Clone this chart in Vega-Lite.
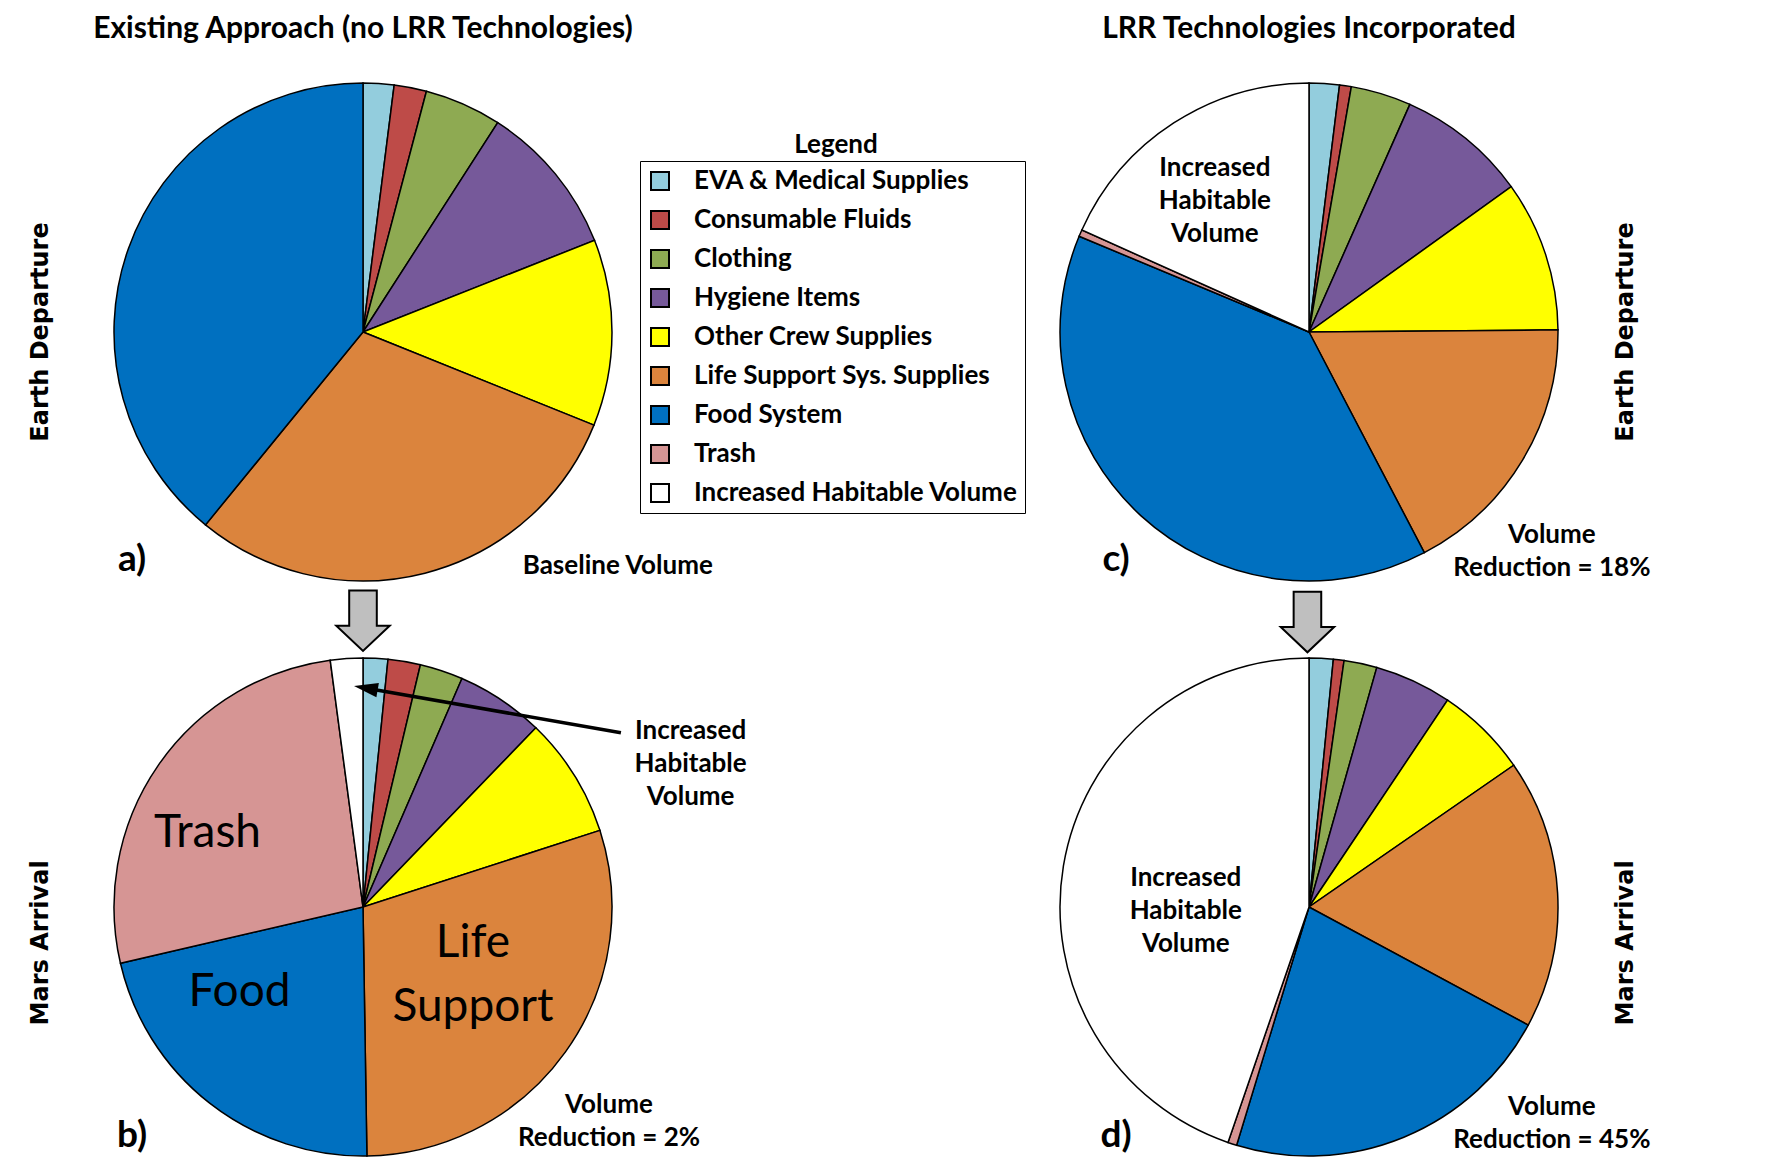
{
  "$schema": "https://vega.github.io/schema/vega-lite/v6.json",
  "background": "white",
  "padding": {"left": 29, "top": 14, "right": 5, "bottom": 0},
  "bounds": "flush",
  "columns": 3,
  "spacing": {"row": 55, "column": 0},
  "resolve": {"legend": {"color": "independent"}},
  "config": {"view": {"stroke": null}},
  "datasets": {
    "slices": [
      {"panel": "a", "n": 1, "category": "EVA & Medical Supplies", "share": 2.0},
      {"panel": "a", "n": 2, "category": "Consumable Fluids", "share": 2.1},
      {"panel": "a", "n": 3, "category": "Clothing", "share": 5.0},
      {"panel": "a", "n": 4, "category": "Hygiene Items", "share": 9.9},
      {"panel": "a", "n": 5, "category": "Other Crew Supplies", "share": 12.1},
      {"panel": "a", "n": 6, "category": "Life Support Sys. Supplies", "share": 29.8},
      {"panel": "a", "n": 7, "category": "Food System", "share": 39.1},
      {"panel": "b", "n": 1, "category": "EVA & Medical Supplies", "share": 1.6},
      {"panel": "b", "n": 2, "category": "Consumable Fluids", "share": 2.1},
      {"panel": "b", "n": 3, "category": "Clothing", "share": 2.8},
      {"panel": "b", "n": 4, "category": "Hygiene Items", "share": 5.7},
      {"panel": "b", "n": 5, "category": "Other Crew Supplies", "share": 7.8},
      {"panel": "b", "n": 6, "category": "Life Support Sys. Supplies", "share": 29.7},
      {"panel": "b", "n": 7, "category": "Food System", "share": 21.6},
      {"panel": "b", "n": 8, "category": "Trash", "share": 26.5},
      {"panel": "b", "n": 9, "category": "Increased Habitable Volume", "share": 2.1},
      {"panel": "c", "n": 1, "category": "EVA & Medical Supplies", "share": 1.96},
      {"panel": "c", "n": 2, "category": "Consumable Fluids", "share": 0.76},
      {"panel": "c", "n": 3, "category": "Clothing", "share": 3.92},
      {"panel": "c", "n": 4, "category": "Hygiene Items", "share": 8.44},
      {"panel": "c", "n": 5, "category": "Other Crew Supplies", "share": 9.78},
      {"panel": "c", "n": 6, "category": "Life Support Sys. Supplies", "share": 17.47},
      {"panel": "c", "n": 7, "category": "Food System", "share": 38.94},
      {"panel": "c", "n": 8, "category": "Trash", "share": 0.44},
      {"panel": "c", "n": 9, "category": "Increased Habitable Volume", "share": 18.28},
      {"panel": "d", "n": 1, "category": "EVA & Medical Supplies", "share": 1.56},
      {"panel": "d", "n": 2, "category": "Consumable Fluids", "share": 0.69},
      {"panel": "d", "n": 3, "category": "Clothing", "share": 2.14},
      {"panel": "d", "n": 4, "category": "Hygiene Items", "share": 5.0},
      {"panel": "d", "n": 5, "category": "Other Crew Supplies", "share": 5.97},
      {"panel": "d", "n": 6, "category": "Life Support Sys. Supplies", "share": 17.5},
      {"panel": "d", "n": 7, "category": "Food System", "share": 21.83},
      {"panel": "d", "n": 8, "category": "Trash", "share": 0.58},
      {"panel": "d", "n": 9, "category": "Increased Habitable Volume", "share": 44.72}
    ]
  },
  "concat": [
    {
      "width": 520, "height": 520,
      "title": {"text": "Existing Approach (no LRR Technologies)", "font": "Lato", "fontSize": 30, "fontWeight": "bold", "color": "black", "anchor": "middle", "frame": "group", "offset": 28},
      "layer": [
        {"data": {"name": "slices"}, "transform": [{"filter": "datum.panel === 'a'"}],
         "mark": {"type": "arc", "outerRadius": 249, "stroke": "black", "strokeWidth": 1.5},
         "encoding": {"theta": {"field": "share", "type": "quantitative", "stack": true}, "order": {"field": "n", "type": "quantitative"},
           "color": {"field": "category", "type": "nominal", "legend": null, "scale": {"domain": ["EVA & Medical Supplies", "Consumable Fluids", "Clothing", "Hygiene Items", "Other Crew Supplies", "Life Support Sys. Supplies", "Food System", "Trash", "Increased Habitable Volume"], "range": ["#93CDDD", "#BE4B48", "#8EAA52", "#76599A", "#FFFF00", "#DB843D", "#0070C0", "#D69594", "#FFFFFF"]}}}},
        {"data": {"values": [{}]}, "mark": {"type": "text", "font": "DejaVu Sans", "fontWeight": "bold", "fontSize": 24, "angle": 270, "color": "black"},
         "encoding": {"x": {"datum": -0.119, "type": "quantitative", "scale": {"domain": [0, 1]}, "axis": null},
           "y": {"datum": 0.5, "type": "quantitative", "scale": {"domain": [0, 1], "reverse": true}, "axis": null},
           "text": {"value": "Earth Departure"}}},
        {"data": {"values": [{}]}, "mark": {"type": "text", "font": "Lato", "fontWeight": "bold", "fontSize": 37, "color": "black"},
         "encoding": {"x": {"datum": 0.056, "type": "quantitative", "scale": {"domain": [0, 1]}, "axis": null},
           "y": {"datum": 0.938, "type": "quantitative", "scale": {"domain": [0, 1], "reverse": true}, "axis": null},
           "text": {"value": "a)"}}},
        {"data": {"values": [{}]}, "mark": {"type": "text", "font": "Lato", "fontWeight": "bold", "fontSize": 26, "color": "black"},
         "encoding": {"x": {"datum": 0.99, "type": "quantitative", "scale": {"domain": [0, 1]}, "axis": null},
           "y": {"datum": 0.95, "type": "quantitative", "scale": {"domain": [0, 1], "reverse": true}, "axis": null},
           "text": {"value": "Baseline Volume"}}}
      ]
    },
    {
      "width": 426, "height": 520,
      "title": {"text": "Legend", "font": "Lato", "fontSize": 26, "fontWeight": "bold", "color": "black", "anchor": "middle", "frame": "group", "offset": -86},
      "data": {"name": "slices"},
      "transform": [{"filter": "datum.panel === 'legend-only'"}],
      "mark": {"type": "square", "stroke": "black", "strokeWidth": 2, "filled": true},
      "encoding": {
        "color": {"field": "category", "type": "nominal",
          "scale": {"domain": ["EVA & Medical Supplies", "Consumable Fluids", "Clothing", "Hygiene Items", "Other Crew Supplies", "Life Support Sys. Supplies", "Food System", "Trash", "Increased Habitable Volume"], "range": ["#93CDDD", "#BE4B48", "#8EAA52", "#76599A", "#FFFF00", "#DB843D", "#0070C0", "#D69594", "#FFFFFF"]},
          "legend": {"orient": "none", "legendX": 17, "legendY": 89, "title": null, "strokeColor": "black", "padding": 7,
            "symbolType": "square", "symbolSize": 324, "symbolStrokeWidth": 2, "symbolStrokeColor": "black", "symbolOpacity": 1,
            "labelFont": "Lato", "labelFontSize": 26, "labelFontWeight": "bold", "labelColor": "black", "labelOffset": 21, "rowPadding": 13, "labelLimit": 500,
            "labelExpr": "datum.label == 'Increased Habitable Volume' ? '\u00a0' + datum.label : datum.label"}}
      }
    },
    {
      "width": 520, "height": 520,
      "title": {"text": "LRR Technologies Incorporated", "font": "Lato", "fontSize": 30, "fontWeight": "bold", "color": "black", "anchor": "middle", "frame": "group", "offset": 28},
      "layer": [
        {"data": {"name": "slices"}, "transform": [{"filter": "datum.panel === 'c'"}],
         "mark": {"type": "arc", "outerRadius": 249, "stroke": "black", "strokeWidth": 1.5},
         "encoding": {"theta": {"field": "share", "type": "quantitative", "stack": true}, "order": {"field": "n", "type": "quantitative"},
           "color": {"field": "category", "type": "nominal", "legend": null, "scale": {"domain": ["EVA & Medical Supplies", "Consumable Fluids", "Clothing", "Hygiene Items", "Other Crew Supplies", "Life Support Sys. Supplies", "Food System", "Trash", "Increased Habitable Volume"], "range": ["#93CDDD", "#BE4B48", "#8EAA52", "#76599A", "#FFFF00", "#DB843D", "#0070C0", "#D69594", "#FFFFFF"]}}}},
        {"data": {"values": [{}]}, "mark": {"type": "text", "font": "DejaVu Sans", "fontWeight": "bold", "fontSize": 24, "angle": 270, "color": "black"},
         "encoding": {"x": {"datum": 1.11, "type": "quantitative", "scale": {"domain": [0, 1]}, "axis": null},
           "y": {"datum": 0.5, "type": "quantitative", "scale": {"domain": [0, 1], "reverse": true}, "axis": null},
           "text": {"value": "Earth Departure"}}},
        {"data": {"values": [{}]}, "mark": {"type": "text", "font": "Lato", "fontWeight": "bold", "fontSize": 37, "color": "black"},
         "encoding": {"x": {"datum": 0.129, "type": "quantitative", "scale": {"domain": [0, 1]}, "axis": null},
           "y": {"datum": 0.938, "type": "quantitative", "scale": {"domain": [0, 1], "reverse": true}, "axis": null},
           "text": {"value": "c)"}}},
        {"data": {"values": [{}]}, "mark": {"type": "text", "font": "Lato", "fontWeight": "bold", "fontSize": 26, "lineHeight": 33, "color": "black"},
         "encoding": {"x": {"datum": 0.967, "type": "quantitative", "scale": {"domain": [0, 1]}, "axis": null},
           "y": {"datum": 0.8904, "type": "quantitative", "scale": {"domain": [0, 1], "reverse": true}, "axis": null},
           "text": {"value": ["Volume", "Reduction = 18%"]}}},
        {"data": {"values": [{}]}, "mark": {"type": "text", "font": "Lato", "fontWeight": "bold", "fontSize": 26, "lineHeight": 33, "color": "black"},
         "encoding": {"x": {"datum": 0.319, "type": "quantitative", "scale": {"domain": [0, 1]}, "axis": null},
           "y": {"datum": 0.1846, "type": "quantitative", "scale": {"domain": [0, 1], "reverse": true}, "axis": null},
           "text": {"value": ["Increased", "Habitable", "Volume"]}}}
      ]
    },
    {
      "width": 520, "height": 520,
      "layer": [
        {"data": {"name": "slices"}, "transform": [{"filter": "datum.panel === 'b'"}],
         "mark": {"type": "arc", "outerRadius": 249, "stroke": "black", "strokeWidth": 1.5},
         "encoding": {"theta": {"field": "share", "type": "quantitative", "stack": true}, "order": {"field": "n", "type": "quantitative"},
           "color": {"field": "category", "type": "nominal", "legend": null, "scale": {"domain": ["EVA & Medical Supplies", "Consumable Fluids", "Clothing", "Hygiene Items", "Other Crew Supplies", "Life Support Sys. Supplies", "Food System", "Trash", "Increased Habitable Volume"], "range": ["#93CDDD", "#BE4B48", "#8EAA52", "#76599A", "#FFFF00", "#DB843D", "#0070C0", "#D69594", "#FFFFFF"]}}}},
        {"data": {"values": [{}]}, "mark": {"type": "text", "font": "DejaVu Sans", "fontWeight": "bold", "fontSize": 24, "angle": 270, "color": "black"},
         "encoding": {"x": {"datum": -0.119, "type": "quantitative", "scale": {"domain": [0, 1]}, "axis": null},
           "y": {"datum": 0.569, "type": "quantitative", "scale": {"domain": [0, 1], "reverse": true}, "axis": null},
           "text": {"value": "Mars Arrival"}}},
        {"data": {"values": [{}]}, "mark": {"type": "text", "font": "Lato", "fontWeight": "bold", "fontSize": 37, "color": "black"},
         "encoding": {"x": {"datum": 0.056, "type": "quantitative", "scale": {"domain": [0, 1]}, "axis": null},
           "y": {"datum": 0.94, "type": "quantitative", "scale": {"domain": [0, 1], "reverse": true}, "axis": null},
           "text": {"value": "b)"}}},
        {"data": {"values": [{}]}, "mark": {"type": "text", "font": "Lato", "fontWeight": "bold", "fontSize": 26, "lineHeight": 33, "color": "black"},
         "encoding": {"x": {"datum": 0.973, "type": "quantitative", "scale": {"domain": [0, 1]}, "axis": null},
           "y": {"datum": 0.8808, "type": "quantitative", "scale": {"domain": [0, 1], "reverse": true}, "axis": null},
           "text": {"value": ["Volume", "Reduction = 2%"]}}},
        {"data": {"values": [{}]}, "mark": {"type": "text", "font": "Lato", "fontWeight": "bold", "fontSize": 26, "lineHeight": 33, "color": "black"},
         "encoding": {"x": {"datum": 1.13, "type": "quantitative", "scale": {"domain": [0, 1]}, "axis": null},
           "y": {"datum": 0.1615, "type": "quantitative", "scale": {"domain": [0, 1], "reverse": true}, "axis": null},
           "text": {"value": ["Increased", "Habitable", "Volume"]}}},
        {"data": {"values": [{}]}, "mark": {"type": "text", "font": "Lato", "fontSize": 46, "color": "black"},
         "encoding": {"x": {"datum": 0.201, "type": "quantitative", "scale": {"domain": [0, 1]}, "axis": null},
           "y": {"datum": 0.357, "type": "quantitative", "scale": {"domain": [0, 1], "reverse": true}, "axis": null},
           "text": {"value": "Trash"}}},
        {"data": {"values": [{}]}, "mark": {"type": "text", "font": "Lato", "fontSize": 46, "color": "black"},
         "encoding": {"x": {"datum": 0.2625, "type": "quantitative", "scale": {"domain": [0, 1]}, "axis": null},
           "y": {"datum": 0.6627, "type": "quantitative", "scale": {"domain": [0, 1], "reverse": true}, "axis": null},
           "text": {"value": "Food"}}},
        {"data": {"values": [{}]}, "mark": {"type": "text", "font": "Lato", "fontSize": 46, "lineHeight": 64, "color": "black"},
         "encoding": {"x": {"datum": 0.7115, "type": "quantitative", "scale": {"domain": [0, 1]}, "axis": null},
           "y": {"datum": 0.5694, "type": "quantitative", "scale": {"domain": [0, 1], "reverse": true}, "axis": null},
           "text": {"value": ["Life", "Support"]}}},
        {"data": {"values": [{}]}, "mark": {"type": "rule", "strokeWidth": 3.5, "color": "black"},
         "encoding": {"x": {"datum": 0.996, "type": "quantitative", "scale": {"domain": [0, 1]}, "axis": null},
           "y": {"datum": 0.165, "type": "quantitative", "scale": {"domain": [0, 1], "reverse": true}, "axis": null},
           "x2": {"datum": 0.5206}, "y2": {"datum": 0.0817}}},
        {"data": {"values": [{}]}, "mark": {"type": "point", "shape": "M -1 0 L 1 -0.6 L 1 0.6 Z", "size": 576, "angle": 10, "filled": true, "color": "black", "opacity": 1},
         "encoding": {"x": {"datum": 0.5054, "type": "quantitative", "scale": {"domain": [0, 1]}, "axis": null},
           "y": {"datum": 0.079, "type": "quantitative", "scale": {"domain": [0, 1], "reverse": true}, "axis": null}}},
        {"data": {"values": [{}]}, "mark": {"type": "point", "shape": "M -0.456 -1 L 0.456 -1 L 0.456 0.164 L 0.883 0.164 L 0 1 L -0.883 0.164 L -0.456 0.164 Z", "size": 3660, "filled": true, "fill": "#BFBFBF", "stroke": "black", "strokeWidth": 2, "opacity": 1},
         "encoding": {"x": {"datum": 0.5, "type": "quantitative", "scale": {"domain": [0, 1]}, "axis": null},
           "y": {"datum": -0.0506, "type": "quantitative", "scale": {"domain": [0, 1], "reverse": true}, "axis": null}}}
      ]
    },
    {
      "width": 426, "height": 520,
      "data": {"values": [{}]},
      "mark": {"type": "text"},
      "encoding": {"text": {"value": ""}}
    },
    {
      "width": 520, "height": 520,
      "layer": [
        {"data": {"name": "slices"}, "transform": [{"filter": "datum.panel === 'd'"}],
         "mark": {"type": "arc", "outerRadius": 249, "stroke": "black", "strokeWidth": 1.5},
         "encoding": {"theta": {"field": "share", "type": "quantitative", "stack": true}, "order": {"field": "n", "type": "quantitative"},
           "color": {"field": "category", "type": "nominal", "legend": null, "scale": {"domain": ["EVA & Medical Supplies", "Consumable Fluids", "Clothing", "Hygiene Items", "Other Crew Supplies", "Life Support Sys. Supplies", "Food System", "Trash", "Increased Habitable Volume"], "range": ["#93CDDD", "#BE4B48", "#8EAA52", "#76599A", "#FFFF00", "#DB843D", "#0070C0", "#D69594", "#FFFFFF"]}}}},
        {"data": {"values": [{}]}, "mark": {"type": "text", "font": "DejaVu Sans", "fontWeight": "bold", "fontSize": 24, "angle": 270, "color": "black"},
         "encoding": {"x": {"datum": 1.11, "type": "quantitative", "scale": {"domain": [0, 1]}, "axis": null},
           "y": {"datum": 0.569, "type": "quantitative", "scale": {"domain": [0, 1], "reverse": true}, "axis": null},
           "text": {"value": "Mars Arrival"}}},
        {"data": {"values": [{}]}, "mark": {"type": "text", "font": "Lato", "fontWeight": "bold", "fontSize": 37, "color": "black"},
         "encoding": {"x": {"datum": 0.129, "type": "quantitative", "scale": {"domain": [0, 1]}, "axis": null},
           "y": {"datum": 0.94, "type": "quantitative", "scale": {"domain": [0, 1], "reverse": true}, "axis": null},
           "text": {"value": "d)"}}},
        {"data": {"values": [{}]}, "mark": {"type": "text", "font": "Lato", "fontWeight": "bold", "fontSize": 26, "lineHeight": 33, "color": "black"},
         "encoding": {"x": {"datum": 0.967, "type": "quantitative", "scale": {"domain": [0, 1]}, "axis": null},
           "y": {"datum": 0.8846, "type": "quantitative", "scale": {"domain": [0, 1], "reverse": true}, "axis": null},
           "text": {"value": ["Volume", "Reduction = 45%"]}}},
        {"data": {"values": [{}]}, "mark": {"type": "text", "font": "Lato", "fontWeight": "bold", "fontSize": 26, "lineHeight": 33, "color": "black"},
         "encoding": {"x": {"datum": 0.263, "type": "quantitative", "scale": {"domain": [0, 1]}, "axis": null},
           "y": {"datum": 0.4442, "type": "quantitative", "scale": {"domain": [0, 1], "reverse": true}, "axis": null},
           "text": {"value": ["Increased", "Habitable", "Volume"]}}},
        {"data": {"values": [{}]}, "mark": {"type": "point", "shape": "M -0.456 -1 L 0.456 -1 L 0.456 0.164 L 0.883 0.164 L 0 1 L -0.883 0.164 L -0.456 0.164 Z", "size": 3660, "filled": true, "fill": "#BFBFBF", "stroke": "black", "strokeWidth": 2, "opacity": 1},
         "encoding": {"x": {"datum": 0.497, "type": "quantitative", "scale": {"domain": [0, 1]}, "axis": null},
           "y": {"datum": -0.048, "type": "quantitative", "scale": {"domain": [0, 1], "reverse": true}, "axis": null}}}
      ]
    }
  ]
}
